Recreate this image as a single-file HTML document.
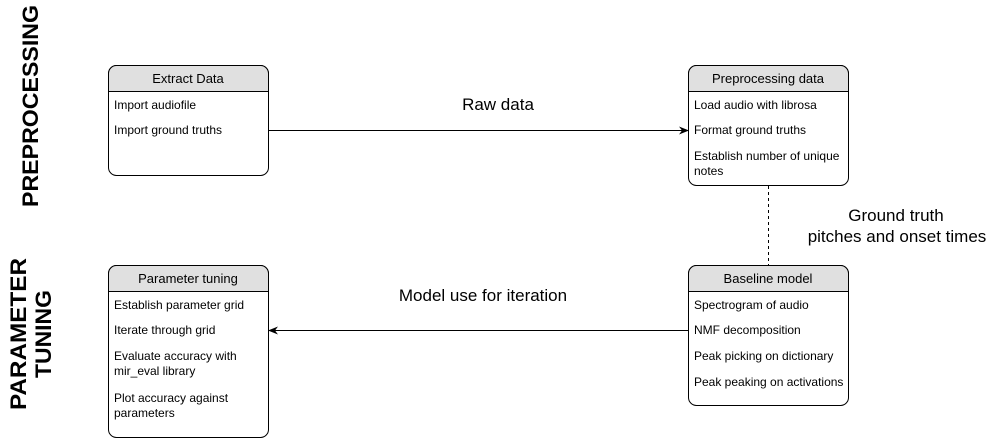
<!DOCTYPE html>
<html><head><meta charset="utf-8"><style>body{margin:0;background:#fff}</style></head>
<body>
<svg width="999" height="440" xmlns="http://www.w3.org/2000/svg" font-family="Liberation Sans, sans-serif">
<defs><marker id="a" markerWidth="10" markerHeight="8" refX="9" refY="4" orient="auto" markerUnits="userSpaceOnUse"><path d="M0,0 L10,4 L0,8 L3,4 z" fill="#000"/></marker></defs>
<g font-weight="bold" font-size="22" text-anchor="middle">
<text transform="translate(38,106) rotate(-90)" textLength="202" lengthAdjust="spacingAndGlyphs">PREPROCESSING</text>
<text transform="translate(26,334) rotate(-90)" textLength="152" lengthAdjust="spacingAndGlyphs">PARAMETER</text>
<text transform="translate(51,334) rotate(-90)" textLength="88" lengthAdjust="spacingAndGlyphs">TUNING</text>
</g>
<g stroke="#000" stroke-width="1" fill="#fff">
<rect x="108.5" y="65.5" width="160" height="110" rx="8"/>
<rect x="688.5" y="65.5" width="160" height="120" rx="8"/>
<rect x="688.5" y="265.5" width="160" height="140" rx="8"/>
<rect x="108.5" y="265.5" width="160" height="172" rx="8"/>
</g>
<g fill="#e0e0e0" stroke="#000">
<path d="M108.5,91.5 V73.5 a8,8 0 0 1 8,-8 H260.5 a8,8 0 0 1 8,8 V91.5 Z"/>
<path d="M688.5,91.5 V73.5 a8,8 0 0 1 8,-8 H840.5 a8,8 0 0 1 8,8 V91.5 Z"/>
<path d="M688.5,291.5 V273.5 a8,8 0 0 1 8,-8 H840.5 a8,8 0 0 1 8,8 V291.5 Z"/>
<path d="M108.5,291.5 V273.5 a8,8 0 0 1 8,-8 H260.5 a8,8 0 0 1 8,8 V291.5 Z"/>
</g>
<g font-size="13" text-anchor="middle">
<text x="188" y="83">Extract Data</text>
<text x="768" y="83">Preprocessing data</text>
<text x="768" y="283">Baseline model</text>
<text x="188" y="283">Parameter tuning</text>
</g>
<g font-size="12">
<text x="114" y="109">Import audiofile</text>
<text x="114" y="134">Import ground truths</text>
<text x="694" y="109">Load audio with librosa</text>
<text x="694" y="134">Format ground truths</text>
<text x="694" y="160">Establish number of unique</text>
<text x="694" y="175">notes</text>
<text x="694" y="309">Spectrogram of audio</text>
<text x="694" y="334">NMF decomposition</text>
<text x="694" y="360">Peak picking on dictionary</text>
<text x="694" y="386">Peak peaking on activations</text>
<text x="114" y="309">Establish parameter grid</text>
<text x="114" y="334">Iterate through grid</text>
<text x="114" y="360">Evaluate accuracy with</text>
<text x="114" y="375">mir_eval library</text>
<text x="114" y="402">Plot accuracy against</text>
<text x="114" y="417">parameters</text>
</g>
<line x1="269" y1="130.5" x2="688" y2="130.5" stroke="#000" marker-end="url(#a)"/>
<line x1="688" y1="330.5" x2="269" y2="330.5" stroke="#000" marker-end="url(#a)"/>
<line x1="768.5" y1="186" x2="768.5" y2="265" stroke="#000" stroke-dasharray="3,3"/>
<g font-size="17" text-anchor="middle">
<text x="498" y="110">Raw data</text>
<text x="483" y="301">Model use for iteration</text>
<text x="896" y="221">Ground truth</text>
<text x="897" y="242">pitches and onset times</text>
</g>
</svg>
</body></html>
